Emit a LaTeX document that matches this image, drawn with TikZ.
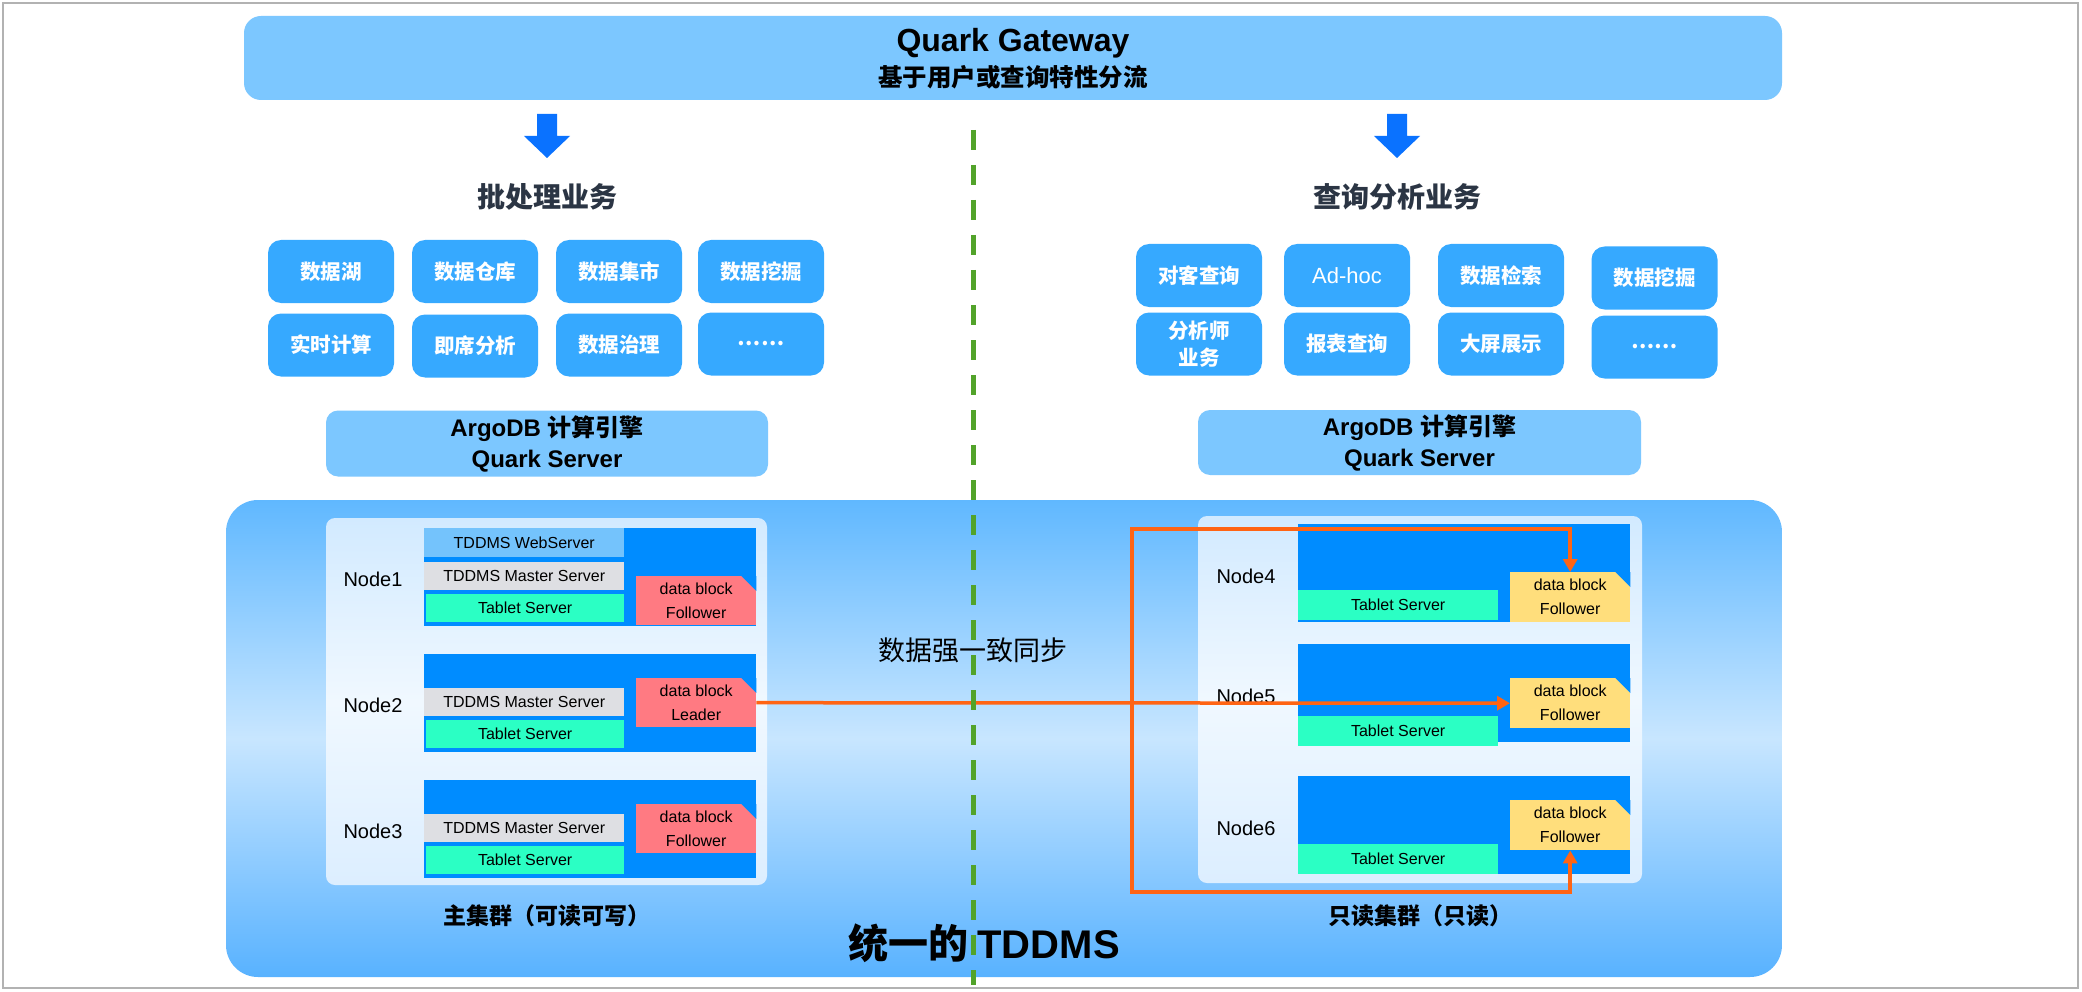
\documentclass[tikz,border=0pt]{standalone}
\usepackage{fontspec}
\setmainfont{Liberation Sans}
\newfontfamily\cjk{Noto Sans CJK SC}
\usetikzlibrary{arrows.meta}
\definecolor{gwc}{HTML}{7CC7FF}
\definecolor{arrc}{HTML}{0A72FF}
\definecolor{ttlc}{HTML}{2B3544}
\definecolor{bxc}{HTML}{36A9FF}
\definecolor{tdtop}{HTML}{60B8FF}
\definecolor{tdmid}{HTML}{C8E6FF}
\definecolor{tdbot}{HTML}{58B2FF}
\definecolor{pntop}{HTML}{D2EAFF}
\definecolor{pnmid}{HTML}{F0F8FF}
\definecolor{pnbot}{HTML}{DCEEFF}
\definecolor{hostc}{HTML}{008CFF}
\definecolor{webc}{HTML}{74C3FC}
\definecolor{mstc}{HTML}{DEDFE3}
\definecolor{tabc}{HTML}{2BFFC4}
\definecolor{leadc}{HTML}{FF7A82}
\definecolor{follc}{HTML}{FFDE7C}
\definecolor{syncc}{HTML}{FF6414}
\definecolor{splitc}{HTML}{52A32A}
\tikzset{
  bx/.style={rectangle,rounded corners=13pt,fill=bxc,text=white,minimum width=126pt,minimum height=63pt,inner sep=0pt,align=center,font=\cjk\bfseries\fontsize{20.5}{26}\selectfont},
  eng/.style={rectangle,rounded corners=12pt,fill=gwc,minimum width=442pt,minimum height=66pt,inner sep=0pt,align=center,font=\bfseries\fontsize{24}{31}\selectfont},
  hw/.style={rectangle,fill=hostc,minimum width=332pt,minimum height=98pt,anchor=north west,inner sep=0pt},
  sv/.style={rectangle,minimum width=200pt,minimum height=28pt,anchor=north west,inner sep=0pt,font=\fontsize{16}{19}\selectfont},
  blk/.style={rectangle,minimum width=120pt,minimum height=49pt,anchor=north west,inner sep=0pt,align=center,font=\fontsize{16}{24}\selectfont},
  nl/.style={font=\fontsize{20}{24}\selectfont},
  ttl/.style={text=ttlc,font=\cjk\bfseries\fontsize{28}{32}\selectfont},
  cl/.style={font=\cjk\bfseries\fontsize{23}{27}\selectfont},
  sync/.style={-{Triangle[length=13pt,width=14pt]},line width=3.5pt,syncc}
}
\begin{document}
\begin{tikzpicture}[x=1pt,y=-1pt]
\useasboundingbox (0,0) rectangle (2082,992);
\fill[white] (0,0) rectangle (2082,992);
\draw[black!30,line width=2pt] (3,3) rectangle (2078,988);
% gateway
\node[fill=gwc,rounded corners=17pt,minimum width=1538pt,minimum height=84pt,inner sep=0pt] (gw) at (1013,58) {};
\node[font=\bfseries\fontsize{32}{36}\selectfont] (gwt) at (1013,43) {Quark Gateway};
\node[font=\cjk\bfseries\fontsize{24.5}{28}\selectfont] (gws) at (1013,77) {基于用户或查询特性分流};
\foreach \x in {547,1397}
  \fill[arrc,shift={(\x,114)}] (-10,0) -- (10,0) -- (10,22) -- (23,22) -- (0,44) -- (-23,22) -- (-10,22) -- cycle;
\node[ttl] (bt) at (547,197) {批处理业务};
\node[ttl] (qt) at (1397,197) {查询分析业务};
% batch side
\node[bx] (b1) at (331,271.5) {数据湖};
\node[bx] (b2) at (475,271.5) {数据仓库};
\node[bx] (b3) at (619,271.5) {数据集市};
\node[bx] (b4) at (761,271.5) {数据挖掘};
\node[bx] (b5) at (331,345) {实时计算};
\node[bx] (b6) at (475,346) {即席分析};
\node[bx] (b7) at (619,345) {数据治理};
\node[bx] (b8) at (761,344) {……};
% query side
\node[bx] (q1) at (1199,275.5) {对客查询};
\node[bx,font=\fontsize{22}{26}\selectfont] (q2) at (1347,275.5) {Ad-hoc};
\node[bx] (q3) at (1501,275.5) {数据检索};
\node[bx] (q4) at (1654.5,278) {数据挖掘};
\node[bx,font=\cjk\bfseries\fontsize{20.5}{27}\selectfont] (q5) at (1199,344) {分析师\\业务};
\node[bx] (q6) at (1347,344) {报表查询};
\node[bx] (q7) at (1501,344) {大屏展示};
\node[bx] (q8) at (1654.5,347) {……};
\node[eng] (e1) at (547,443.5) {ArgoDB {\cjk 计算引擎}\\Quark Server};
\node[eng,minimum width=443pt,minimum height=65pt] (e2) at (1419.5,442.5) {ArgoDB {\cjk 计算引擎}\\Quark Server};
% unified TDDMS
\shade[rounded corners=32pt,top color=tdtop,bottom color=tdbot,middle color=tdmid] (226,500) rectangle (1782,977);
\shade[rounded corners=9pt,top color=pntop,bottom color=pnbot,middle color=pnmid] (326,518) rectangle (767,885);
\shade[rounded corners=9pt,top color=pntop,bottom color=pnbot,middle color=pnmid] (1198,516) rectangle (1642,883);
\foreach \i/\y/\b/\r in {1/528/576/Follower,2/654/678/Leader,3/780/804/Follower}{
  \node[hw] (h\i) at (424,\y) {};
  \node[sv,fill=mstc] (m\i) at (424,\y+34) {TDDMS Master Server};
  \node[sv,fill=tabc,minimum width=198pt] (t\i) at (426,\y+66) {Tablet Server};
  \node[blk,fill=leadc] (d\i) at (636,\b) {data block\\\r};
  \fill[hostc] (d\i.north east) -- ++(-15,0) -- ++(15,15) -- cycle;
  \node[nl] (n\i) at (373,\y+51) {Node\i};
}
\node[sv,fill=webc,minimum height=29pt] (web) at (424,528) {TDDMS WebServer};
\foreach \i/\y/\t/\b in {4/524/590/572,5/644/716/678,6/776/844/800}{
  \node[hw] (h\i) at (1298,\y) {};
  \node[sv,fill=tabc,minimum height=30pt] (t\i) at (1298,\t) {Tablet Server};
  \node[blk,fill=follc,minimum height=50pt] (d\i) at (1510,\b) {data block\\Follower};
  \fill[hostc] (d\i.north east) -- ++(-15,0) -- ++(15,15) -- cycle;
  \node[nl] (n\i) at (1246,\y+52) {Node\i};
}
\node[font=\cjk\fontsize{27}{30}\selectfont] (syn) at (973,650) {数据强一致同步};
\node[cl] (mc) at (547,916) {主集群（可读可写）};
\node[cl] (rc) at (1420,916) {只读集群（只读）};
\node[font=\cjk\bfseries\fontsize{40}{44}\selectfont] (td) at (984,943) {统一的 {\rmfamily\bfseries TDDMS}};
% sync
\coordinate (sp) at (1132,703);
\coordinate (sp4) at (1132,529);
\coordinate (sp6) at (1132,892);
\draw[sync] (d2.east) -- (d5.west);
\draw[sync] (sp) -- (sp4) -| (d4.north);
\draw[sync] (sp) -- (sp6) -| (d6.south);
\draw[splitc,line width=5pt,dash pattern=on 20pt off 15pt] (973,130) -- (973,985);
\end{tikzpicture}
\end{document}
